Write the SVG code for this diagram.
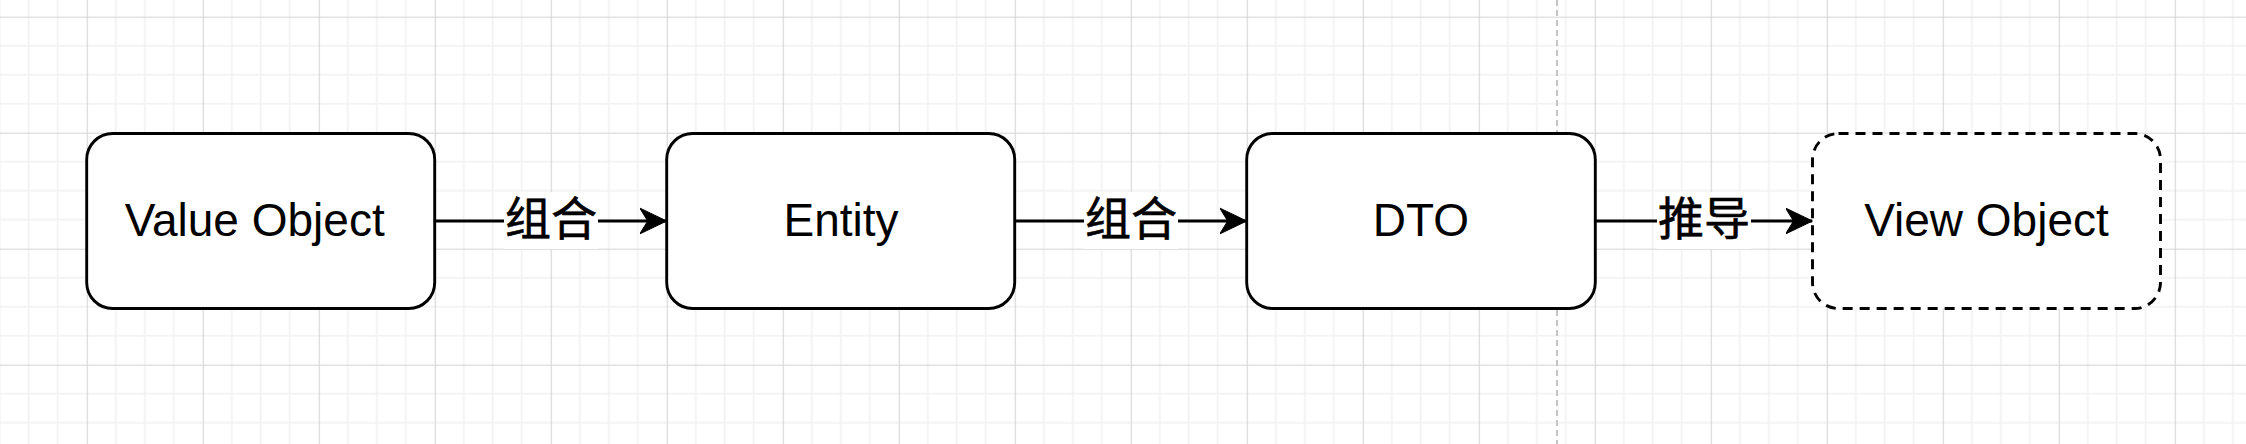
<svg xmlns="http://www.w3.org/2000/svg" width="2246" height="444" viewBox="0 0 2246 444">
  <style>
    .node { fill: #ffffff; stroke: #000000; stroke-width: 2.9; }
    .dashed { stroke-dasharray: 10 7; }
    .ntext { font-family: "Liberation Sans", Arial, "Noto Sans CJK SC", sans-serif; font-size: 46px; fill: #000000; text-anchor: middle; }
    .edge { fill: none; stroke: #000000; stroke-width: 2.9; }
    .lbg { fill: #ffffff; }
    .ltext { font-family: "Liberation Sans", "Noto Sans CJK SC", sans-serif; font-size: 46px; fill: #000000; text-anchor: middle; stroke: #000000; stroke-width: 0.6; }
  </style>
  <defs>
    <pattern id="grid" patternUnits="userSpaceOnUse" x="86.7" y="16.7" width="116" height="116">
      <g stroke="#f1f1f1" stroke-width="1.6">
        <line x1="29" y1="0" x2="29" y2="116"/>
        <line x1="58" y1="0" x2="58" y2="116"/>
        <line x1="87" y1="0" x2="87" y2="116"/>
        <line x1="0" y1="29" x2="116" y2="29"/>
        <line x1="0" y1="58" x2="116" y2="58"/>
        <line x1="0" y1="87" x2="116" y2="87"/>
      </g>
      <g stroke="#d4d4d4" stroke-width="1.2">
        <line x1="0.5" y1="0" x2="0.5" y2="116"/>
        <line x1="0" y1="0.5" x2="116" y2="0.5"/>
      </g>
    </pattern>
    <marker id="arrow" viewBox="0 0 28 28" refX="27" refY="14" markerWidth="28" markerHeight="28" markerUnits="userSpaceOnUse" orient="auto">
      <path d="M27,14 L0,1 L8,14 L0,27 Z" fill="#000000" stroke="#000000" stroke-width="1"/>
    </marker>
  </defs>
  <rect x="0" y="0" width="2246" height="444" fill="#ffffff"/>
  <rect x="0" y="0" width="2246" height="444" fill="url(#grid)"/>
  <line x1="1557" y1="0" x2="1557" y2="444" stroke="#c4c4c4" stroke-width="2" stroke-dasharray="6 4"/>

  <g id="connectors">
    <g id="edge-vo-entity">
      <line class="edge" x1="434.7" y1="221" x2="666.7" y2="221" marker-end="url(#arrow)"/>
      <rect class="lbg" x="504" y="192" width="94" height="57"/>
      <text class="ltext" x="551" y="235">组合</text>
    </g>
    <g id="edge-entity-dto">
      <line class="edge" x1="1014.7" y1="221" x2="1246.7" y2="221" marker-end="url(#arrow)"/>
      <rect class="lbg" x="1084" y="192" width="94" height="57"/>
      <text class="ltext" x="1131" y="235">组合</text>
    </g>
    <g id="edge-dto-view">
      <line class="edge" x1="1595.5" y1="221" x2="1812.5" y2="221" marker-end="url(#arrow)"/>
      <rect class="lbg" x="1657" y="192" width="94" height="57"/>
      <text class="ltext" x="1704" y="235">推导</text>
    </g>
  </g>

  <g id="node-value-object">
    <rect class="node" x="86.7" y="133.5" width="348" height="175" rx="26" ry="26"/>
    <text class="ntext" x="254.7" y="236">Value Object</text>
  </g>
  <g id="node-entity">
    <rect class="node" x="666.7" y="133.5" width="348" height="175" rx="26" ry="26"/>
    <text class="ntext" x="841" y="236">Entity</text>
  </g>
  <g id="node-dto">
    <rect class="node" x="1246.7" y="133.5" width="348.6" height="175" rx="26" ry="26"/>
    <text class="ntext" x="1421" y="236">DTO</text>
  </g>
  <g id="node-view-object">
    <rect class="node dashed" x="1812.5" y="133.5" width="348" height="175" rx="26" ry="26"/>
    <text class="ntext" x="1986.5" y="236">View Object</text>
  </g>
</svg>
